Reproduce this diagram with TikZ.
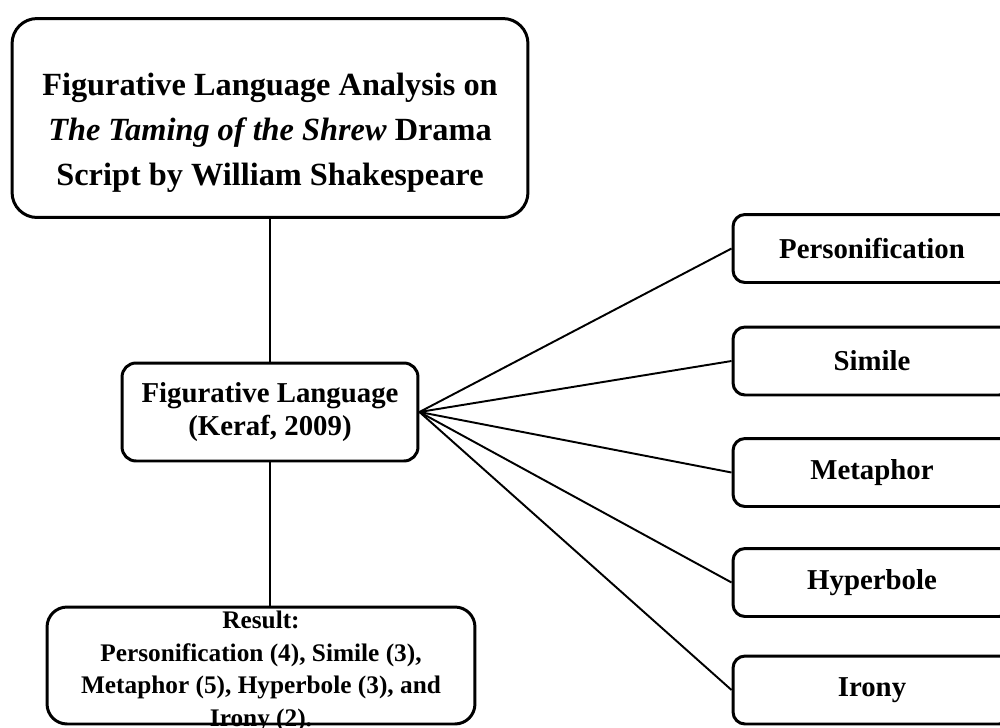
\documentclass[tikz,border=0pt]{standalone}
\usepackage{fontspec}
\setmainfont{Liberation Serif}
\usepackage{tikz}
\usetikzlibrary{positioning, calc}

\tikzset{
  box/.style={draw, line width=1.7pt, rounded corners=#1, align=center,
              font=\bfseries, inner sep=0pt},
  box/.default=0.24cm,
  boxtext/.style={align=center, inner sep=0pt},
  link/.style={line width=1.1pt}
}

\begin{document}
\begin{tikzpicture}[x=0.02cm, y=-0.02cm]
  \useasboundingbox (0,0) rectangle (1000,727);

  % Title box (text sits a little below the middle)
  \node[box=0.5cm, minimum width=10.32cm, minimum height=3.98cm] (title)
    at (270,118) {};
  \node[boxtext, font=\bfseries\fontsize{18.4}{25.6}\selectfont] (titletext)
    at (270,133)
    {Figurative Language Analysis on\\
     \textit{The Taming of the Shrew} Drama\\
     Script by William Shakespeare};

  % Theory box
  \node[box=0.28cm, minimum width=5.92cm, minimum height=1.96cm,
        font=\bfseries\fontsize{16.4}{19}\selectfont] (theory) at (270,412)
    {Figurative Language\\(Keraf, 2009)};

  % Result box (text runs past its lower edge)
  \node[box=0.4cm, minimum width=8.56cm, minimum height=2.34cm] (result)
    at (261,665.5) {};
  \node[boxtext, font=\bfseries\fontsize{14.4}{18.5}\selectfont,
        anchor=north] (resulttext) at (261,611)
    {Result:\\
     Personification (4), Simile (3),\\
     Metaphor (5), Hyperbole (3), and\\
     Irony (2).};

  % Kinds of figurative language
  \foreach \name/\y in {Personification/248.5, Simile/361, Metaphor/472.5,
                        Hyperbole/582.5, Irony/690} {
    \node[box, minimum width=5.56cm, minimum height=1.36cm,
          font=\bfseries\fontsize{16.4}{19}\selectfont] (\name) at (872,\y)
      {\name};
    \draw[link] (theory.east) -- (\name.west);
  }

  % Vertical links
  \draw[link] (title.south) -- (theory.north);
  \draw[link] (theory.south) -- (theory.south |- result.north);
\end{tikzpicture}
\end{document}
